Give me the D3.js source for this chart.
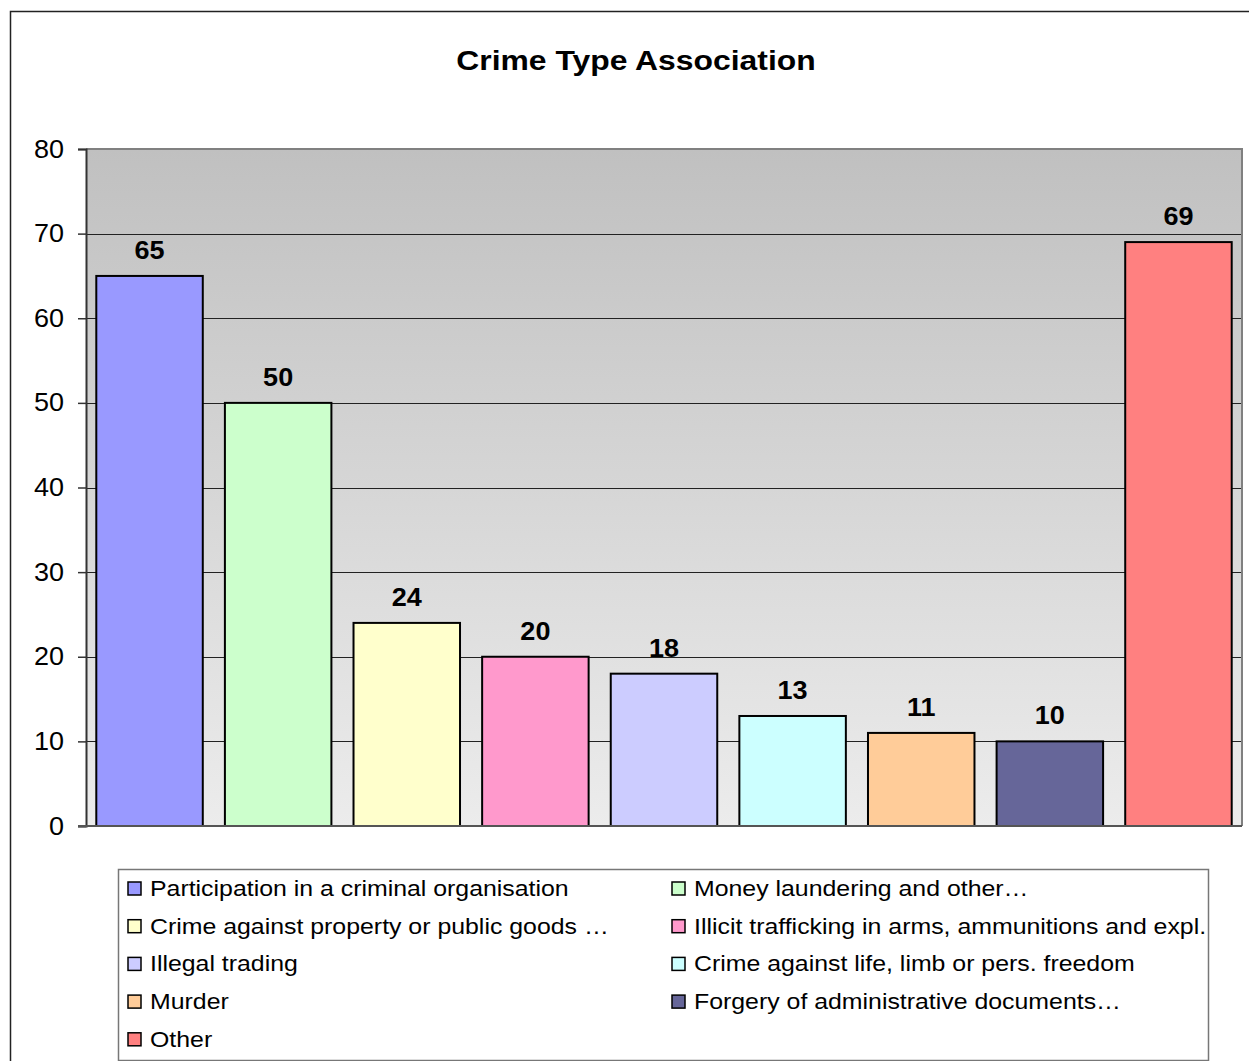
<!DOCTYPE html>
<html>
<head>
<meta charset="utf-8">
<script src="https://cdn.jsdelivr.net/npm/d3@7"></script>
<style>
  body { margin: 0; background: #fff; }
  svg { display: block; font-family: "Liberation Sans", Arial, sans-serif; }
</style>
</head>
<body>
<svg></svg>
<script>
const w = 1249;
const h = 1061;

// chart data
const categories = [
  'Participation in a criminal organisation',
  'Money laundering and other…',
  'Crime against property or public goods …',
  'Illicit trafficking in arms, ammunitions and expl.',
  'Illegal trading',
  'Crime against life, limb or pers. freedom',
  'Murder',
  'Forgery of administrative documents…',
  'Other'
];
const values = [65, 50, 24, 20, 18, 13, 11, 10, 69];
const colors = ['#9999ff', '#ccffcc', '#ffffcc', '#ff99cc', '#ccccff', '#ccffff', '#ffcc99', '#666699', '#ff8080'];
const yTicks = [0, 10, 20, 30, 40, 50, 60, 70, 80];

const plot = { left: 86, top: 149, right: 1242, bottom: 826 };

const canvas = d3.select('svg').attr('width', w).attr('height', h);

// the original renders its text a bit wider than Liberation Sans
const stretch = (sel, k) => {
  sel.each(function () {
    const len = this.getComputedTextLength();
    d3.select(this).attr('textLength', len * k).attr('lengthAdjust', 'spacingAndGlyphs');
  });
};

// gradient for plot area
const defs = canvas.append('defs');
const grad = defs.append('linearGradient')
  .attr('id', 'plotBg')
  .attr('x1', 0).attr('y1', 0).attr('x2', 0).attr('y2', 1);
grad.append('stop').attr('offset', '0%').attr('stop-color', '#c0c0c0');
grad.append('stop').attr('offset', '100%').attr('stop-color', '#ececec');

// outer chart border (runs off the page right / bottom)
canvas.append('rect')
  .attr('x', 10.5).attr('y', 11.5)
  .attr('width', w + 20).attr('height', h + 20)
  .attr('fill', '#fff')
  .attr('stroke', '#222')
  .attr('stroke-width', 1.5);

// title
canvas.append('text')
  .attr('x', 636)
  .attr('y', 70)
  .attr('text-anchor', 'middle')
  .attr('font-size', '27px')
  .attr('font-weight', 'bold')
  .text('Crime Type Association')
  .call(stretch, 1.18);

const xScale = d3.scaleBand()
  .domain(categories)
  .range([plot.left, plot.right])
  .paddingInner(0.172)
  .paddingOuter(0.08);

const yScale = d3.scaleLinear()
  .domain([0, 80])
  .range([plot.bottom, plot.top]);

// plot background
canvas.append('rect')
  .attr('x', plot.left).attr('y', plot.top)
  .attr('width', plot.right - plot.left)
  .attr('height', plot.bottom - plot.top)
  .attr('fill', 'url(#plotBg)');

// gridlines
canvas.append('g')
  .selectAll('line')
  .data(yTicks.filter(d => d > 0 && d < 80))
  .enter()
  .append('line')
  .attr('x1', plot.left).attr('x2', plot.right)
  .attr('y1', d => Math.round(yScale(d)) + 0.5)
  .attr('y2', d => Math.round(yScale(d)) + 0.5)
  .attr('stroke', '#222')
  .attr('stroke-width', 1.2);

// plot border top/right
canvas.append('path')
  .attr('d', `M${plot.left},${plot.top}H${plot.right}V${plot.bottom}`)
  .attr('fill', 'none')
  .attr('stroke', '#808080')
  .attr('stroke-width', 2);

// bars
canvas.append('g')
  .selectAll('rect')
  .data(values)
  .enter()
  .append('rect')
  .attr('x', (d, i) => xScale(categories[i]))
  .attr('y', d => yScale(d))
  .attr('width', xScale.bandwidth())
  .attr('height', d => yScale(0) - yScale(d))
  .attr('fill', (d, i) => colors[i])
  .attr('stroke', '#000')
  .attr('stroke-width', 2);

// value labels
canvas.append('g')
  .selectAll('text')
  .data(values)
  .enter()
  .append('text')
  .attr('x', (d, i) => xScale(categories[i]) + xScale.bandwidth() / 2)
  .attr('y', d => yScale(d) - 17)
  .attr('text-anchor', 'middle')
  .attr('font-size', '25px')
  .attr('font-weight', 'bold')
  .text(d => d)
  .call(stretch, 1.08);

// y axis
const yAxis = d3.axisLeft(yScale).tickValues(yTicks).tickSize(8).tickPadding(14);
const yg = canvas.append('g')
  .attr('transform', `translate(${plot.left},0)`)
  .call(yAxis);
yg.select('.domain').attr('stroke', '#333').attr('stroke-width', 2);
yg.selectAll('.tick line').attr('stroke', '#333').attr('stroke-width', 1.5);
yg.selectAll('.tick text')
  .attr('font-size', '25px')
  .attr('font-family', '"Liberation Sans", Arial, sans-serif')
  .attr('fill', '#000')
  .call(stretch, 1.08);

// x axis baseline
canvas.append('line')
  .attr('x1', plot.left - 8).attr('x2', plot.right)
  .attr('y1', plot.bottom).attr('y2', plot.bottom)
  .attr('stroke', '#555')
  .attr('stroke-width', 2);

// legend
const legend = canvas.append('g');
legend.append('rect')
  .attr('x', 118.5).attr('y', 869.5)
  .attr('width', 1090).attr('height', 191)
  .attr('fill', '#fff')
  .attr('stroke', '#777')
  .attr('stroke-width', 1.5);

const legendItems = legend.selectAll('g.item')
  .data(categories)
  .enter()
  .append('g')
  .attr('class', 'item')
  .attr('transform', (d, i) => {
    const col = i % 2;
    const row = Math.floor(i / 2);
    return `translate(${col ? 672 : 128},${888 + row * 37.7})`;
  });

legendItems.append('rect')
  .attr('x', 0).attr('y', -6)
  .attr('width', 13).attr('height', 13)
  .attr('fill', (d, i) => colors[i])
  .attr('stroke', '#000')
  .attr('stroke-width', 1.5);

legendItems.append('text')
  .attr('x', 22)
  .attr('y', 8)
  .attr('font-size', '22px')
  .text(d => d)
  .call(stretch, 1.13);
</script>
</body>
</html>
